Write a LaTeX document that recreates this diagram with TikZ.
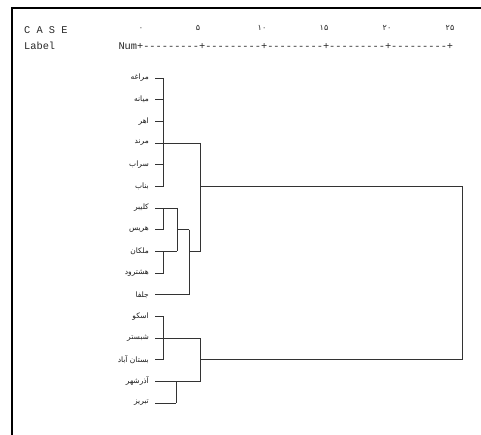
\documentclass[tikz,border=0pt]{standalone}
\usepackage{fontspec}
\setmonofont{Liberation Mono}
\newfontfamily\fa[Script=Arabic]{DejaVu Sans}
\TeXXeTstate=1
\begin{document}
\begin{tikzpicture}[x=1pt,y=-1pt,
  lbl/.style={anchor=east,inner sep=0pt,font=\fa\fontsize{7.5}{8}\selectfont,text=black!90},
  mono/.style={anchor=base west,inner sep=0pt,font=\ttfamily\fontsize{10.33}{12}\selectfont,text=black!85},
  num/.style={anchor=base,inner sep=0pt,font=\fa\fontsize{8}{9}\selectfont,text=black!85},
  tree/.style={draw=black!80,line width=0.8pt},
  frame/.style={draw=black,line width=1.6pt}]
\useasboundingbox (0,0) rectangle (481,435);
% frame
\coordinate (fTL) at (12,8);
\coordinate (fTR) at (481,8);
\coordinate (fBL) at (12,435);
\draw[frame] (fBL) -- (fTL) -- (fTR);
% header
\node[mono] (hcase) at (24,34) {C A S E};
\node[mono] (hlabel) at (24,50) {Label};
\node[mono] (hruler) at (118.3,50) {Num+---------+---------+---------+---------+---------+};
\node[num] (n0) at (141,31) {۰};
\node[num] (n5) at (198,31) {۵};
\node[num] (n10) at (262,31) {۱۰};
\node[num] (n15) at (324,31) {۱۵};
\node[num] (n20) at (387,31) {۲۰};
\node[num] (n25) at (450,31) {۲۵};
% leaves
\foreach \i/\yy/\t in {1/78/مراغه,2/99.7/میانه,3/121.3/اهر,4/143/مرند,5/164.7/سراب,6/186.3/بناب,7/208/کلیبر,8/229.7/هریس,9/251.3/ملکان,10/273/هشترود,11/294.7/جلفا,12/316.3/اسکو,13/338/شبستر,14/359.7/بستان آباد,15/381.3/آذرشهر,16/403/تبریز}{
  \node[lbl] (l\i) at (149,\yy) {\beginR\t\endR};
  \coordinate (t\i) at (155,\yy);
}
% x levels
\coordinate (xA) at (163.5,0);
\coordinate (xC) at (176,0);
\coordinate (xB2) at (177,0);
\coordinate (xB3) at (189,0);
\coordinate (xP) at (200.5,0);
\coordinate (xR) at (462,0);
% group A
\foreach \i in {1,2,3,5,6} \draw[tree] (t\i) -- (t\i -| xA);
\draw[tree] (t1 -| xA) -- (t6 -| xA);
\draw[tree] (t4) -- (t4 -| xP);
% group B
\draw[tree] (t7) -- (t7 -| xB2);
\draw[tree] (t8) -- (t8 -| xA);
\draw[tree] (t7 -| xA) -- (t8 -| xA);
\draw[tree] (t9) -- (t9 -| xB2);
\draw[tree] (t10) -- (t10 -| xA);
\draw[tree] (t9 -| xA) -- (t10 -| xA);
\draw[tree] (t7 -| xB2) -- (t9 -| xB2);
\draw[tree] (t8 -| xB2) -- (t8 -| xB3);
\draw[tree] (t11) -- (t11 -| xB3);
\draw[tree] (t8 -| xB3) -- (t11 -| xB3);
\draw[tree] (t9 -| xB3) -- (t9 -| xP);
\draw[tree] (t4 -| xP) -- (t9 -| xP);
\draw[tree] (t6 -| xP) -- (t6 -| xR);
% group C
\draw[tree] (t12) -- (t12 -| xA);
\draw[tree] (t13) -- (t13 -| xP);
\draw[tree] (t14) -- (t14 -| xA);
\draw[tree] (t12 -| xA) -- (t14 -| xA);
\draw[tree] (t15) -- (t15 -| xP);
\draw[tree] (t16) -- (t16 -| xC);
\draw[tree] (t15 -| xC) -- (t16 -| xC);
\draw[tree] (t13 -| xP) -- (t15 -| xP);
\draw[tree] (t14 -| xP) -- (t14 -| xR);
% root
\draw[tree] (t6 -| xR) -- (t14 -| xR);
\end{tikzpicture}
\end{document}
